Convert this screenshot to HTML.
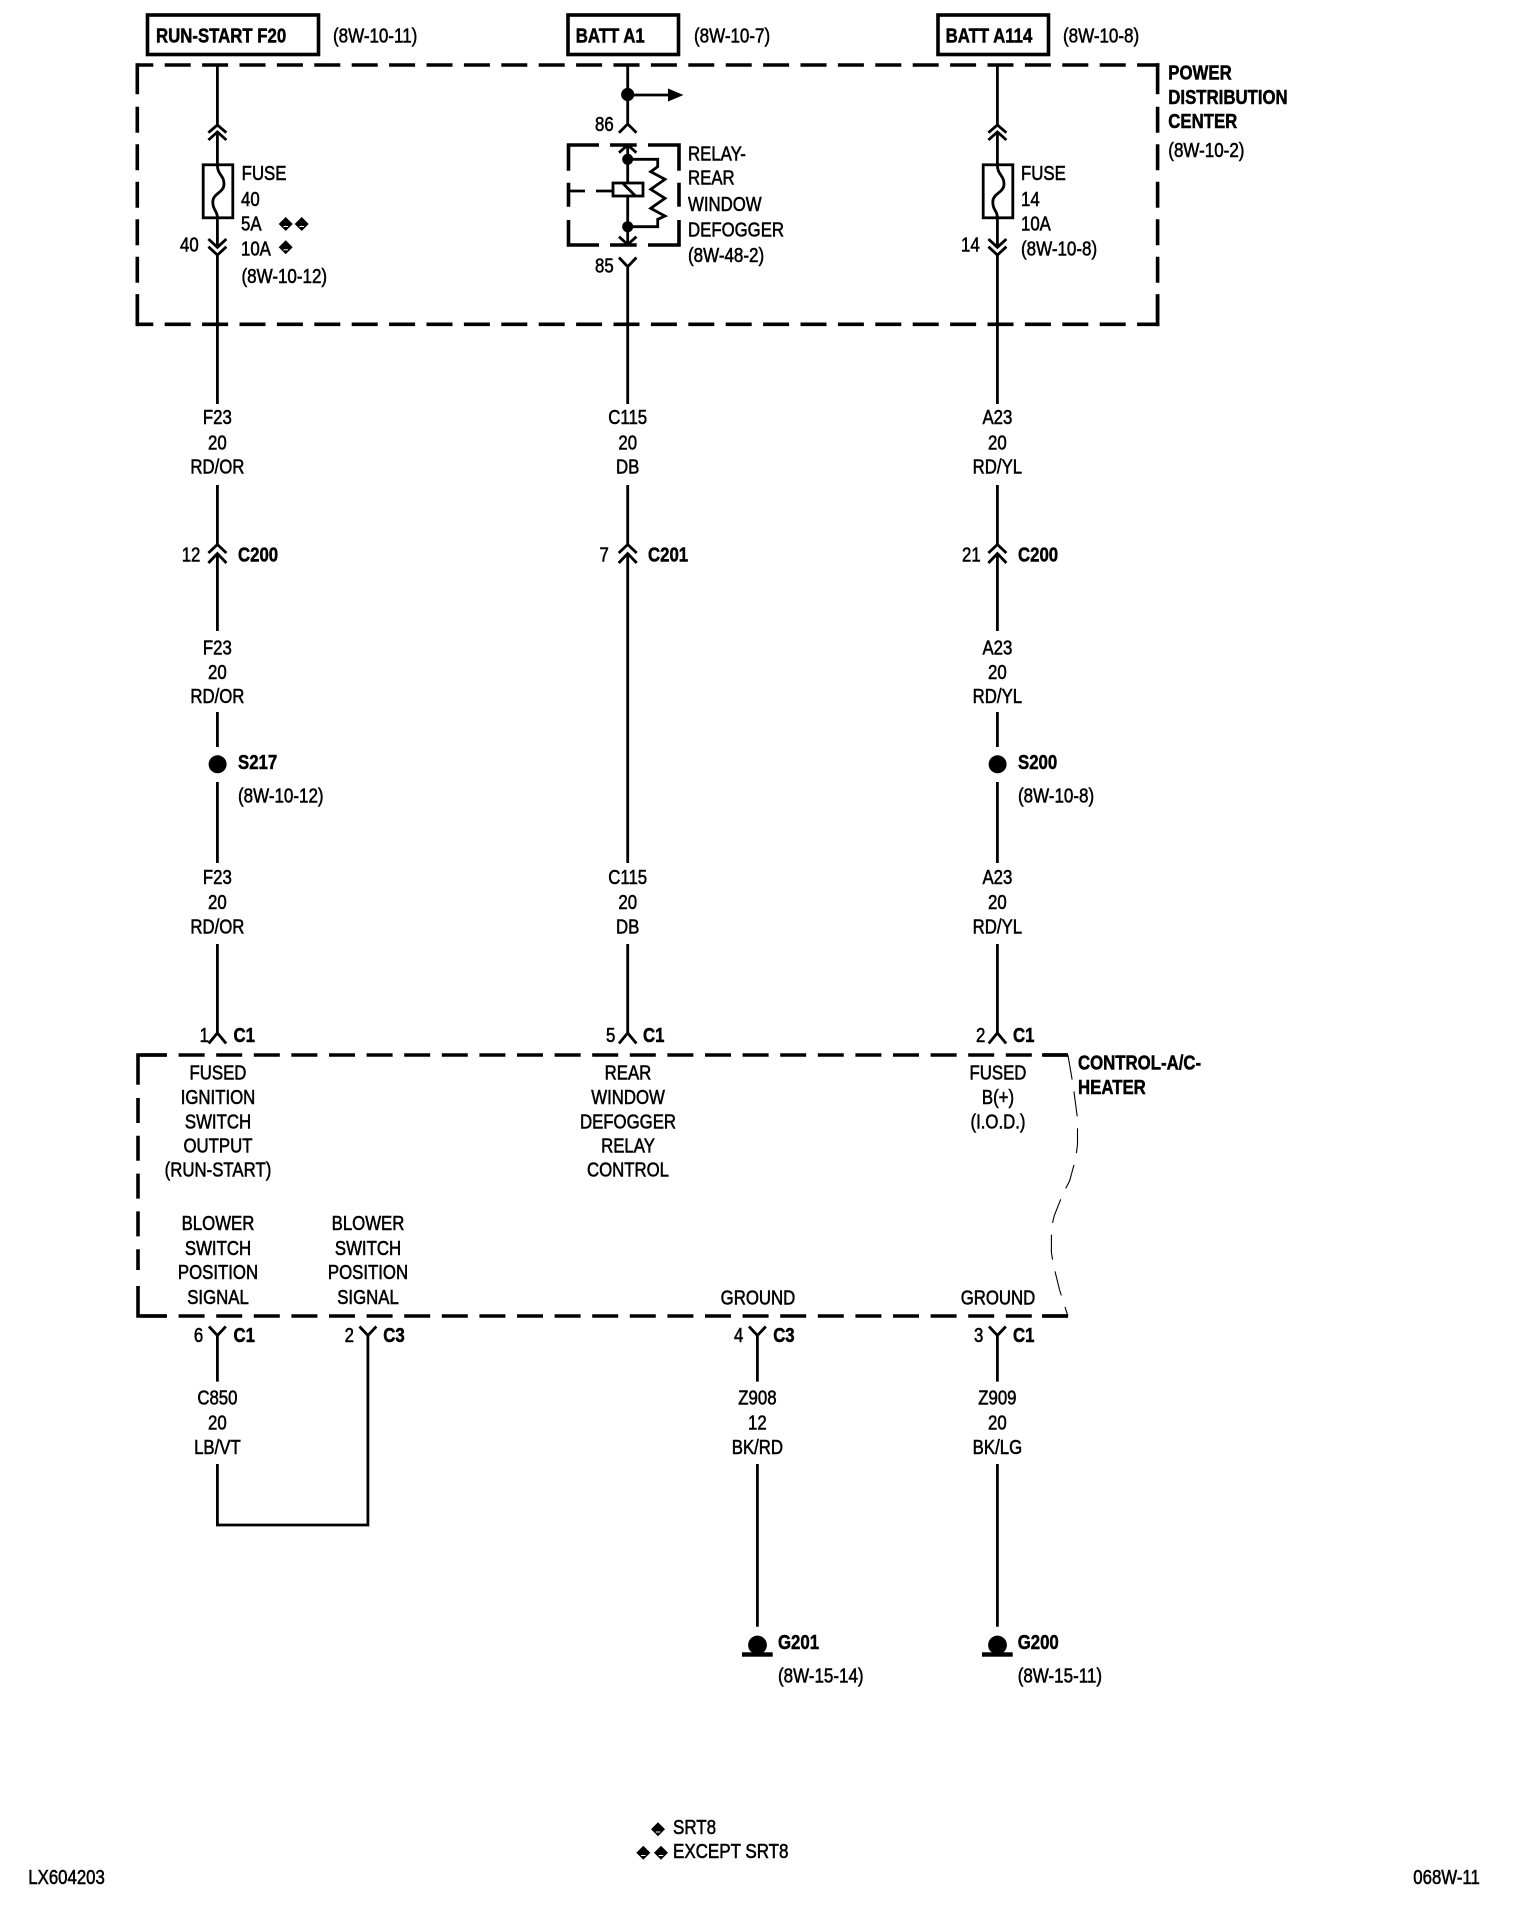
<!DOCTYPE html>
<html>
<head>
<meta charset="utf-8">
<title>Wiring diagram 068W-11</title>
<style>
html,body{margin:0;padding:0;background:#fff;}
svg{display:block;}
text{font-family:"Liberation Sans",sans-serif;font-size:20px;fill:#000;stroke:#000;stroke-width:.55px;transform-box:fill-box;transform-origin:0 50%;transform:scaleX(.84);}
text.b{font-weight:bold;stroke-width:.5px;transform:scaleX(.84);}
text.r{transform:scaleX(.85);}
text.c{text-anchor:middle;transform-origin:50% 50%;}
.w{fill:none;stroke:#000;stroke-width:2.8;}
.dh{fill:none;stroke:#000;stroke-width:3.6;stroke-dasharray:26 11.4;}
.dv{fill:none;stroke:#000;stroke-width:3.6;stroke-dasharray:26 11.5;}
.s{fill:none;stroke:#fff;stroke-width:1;}
</style>
</head>
<body>
<svg xmlns="http://www.w3.org/2000/svg" width="1520" height="1906" viewBox="0 0 1520 1906">
<rect width="1520" height="1906" fill="#fff"/>

<!-- top boxes -->
<g fill="none" stroke="#000" stroke-width="3.6">
<rect x="147.5" y="15" width="171" height="39.5"/>
<rect x="568" y="15" width="110.5" height="39.5"/>
<rect x="938" y="15" width="110.5" height="39.5"/>
</g>
<text class="b" x="156" y="42.5">RUN-START F20</text>
<text class="r" x="333" y="42.5">(8W-10-11)</text>
<text class="b" x="575.7" y="42.5">BATT A1</text>
<text class="r" x="694" y="42.5">(8W-10-7)</text>
<text class="b" x="945.6" y="42.5">BATT A114</text>
<text class="r" x="1063" y="42.5">(8W-10-8)</text>

<!-- power distribution box -->
<path class="dh" stroke-dashoffset="10" d="M137.3 65H1159.5"/>
<path class="dh" stroke-dashoffset="10" d="M137.3 324.3H1159.5"/>
<path class="w" style="stroke-width:3.6" d="M137.3 63.2V94.3M137.3 294.2V326.1M1157.6 63.2V94.3M1157.6 294.2V326.1"/>
<path class="dv" d="M137.3 106.7V320M1157.6 106.7V320"/>
<text class="b" x="1168.3" y="79.5">POWER</text>
<text class="b" x="1168.3" y="104">DISTRIBUTION</text>
<text class="b" x="1168.3" y="128">CENTER</text>
<text class="r" x="1168.3" y="157">(8W-10-2)</text>

<!-- left column wires -->
<path class="w" d="M217.4 65V125M217.4 132V164M217.4 218V247M217.4 255V404"/>
<path class="w" d="M208.4 132.7L217.4 125L226.4 132.7M208.4 140L217.4 132L226.4 140"/>
<path class="w" d="M208.4 239L217.4 247.3L226.4 239M208.4 246.7L217.4 255L226.4 246.7"/>
<rect x="203.2" y="164.8" width="29.6" height="53" fill="none" stroke="#000" stroke-width="2.8"/>
<path class="w" d="M217.4 165C217.4 175 224 175 224 184C224 193 212.8 193 212.8 202C212.8 211 217.4 210 217.4 218"/>
<text x="241.7" y="180">FUSE</text>
<text x="241" y="206">40</text>
<text x="241" y="230.5">5A</text>
<polygon points="285.7,217 292.7,224 285.7,231 278.7,224" fill="#000"/>
<polygon points="301.7,217 308.7,224 301.7,231 294.7,224" fill="#000"/>
<path class="s" d="M283.5 226.5H288M299.5 226.5H304"/>
<text x="241" y="255.5">10A</text>
<polygon points="285.7,240.3 292.7,247.3 285.7,254.3 278.7,247.3" fill="#000"/>
<path class="s" d="M283.5 249.8H288"/>
<text class="r" x="241.5" y="283">(8W-10-12)</text>
<text x="180" y="251.7">40</text>

<!-- middle column -->
<path class="w" d="M627.7 65V124"/>
<ellipse cx="627.7" cy="94.5" rx="6.6" ry="6.6" fill="#000"/>
<path class="w" d="M627.7 95H670"/>
<polygon points="668,88.5 683.5,95 668,101.5" fill="#000"/>
<path class="w" d="M619 132.7L627.7 124L636.4 132.7"/>
<text x="595" y="131">86</text>

<!-- relay -->
<g fill="none" stroke="#000" stroke-width="3.6">
<path d="M599 145H568.5V170.7M610 145H636.7M648 145H679V170.7M568.5 182.7V206.7M679 182.7V206.7M568.5 220V245H599M610 245H636.7M648 245H679V220"/>
</g>
<path class="w" d="M627.7 146V183M627.7 196V244"/>
<path class="w" d="M619 152.7L627.7 145L636.4 152.7M619 236.7L627.7 244.5L636.4 236.7"/>
<circle cx="627.7" cy="159.3" r="5.5" fill="#000"/>
<circle cx="627.7" cy="226.7" r="5.5" fill="#000"/>
<path class="w" d="M627.7 159.3H657.7V166.7L650.7 171.7L665 179.3L650.7 189.3L665 198.3L650.7 208.3L665 216L657.7 219.3V226.7H627.7"/>
<rect x="613" y="183" width="30" height="13" fill="#fff" stroke="#000" stroke-width="2.8"/>
<path class="w" d="M623 183.5L635 195.5"/>
<path class="w" d="M567 191H585M596 191H613"/>
<text x="688" y="160.7">RELAY-</text>
<text x="688" y="184.3">REAR</text>
<text x="688" y="211">WINDOW</text>
<text x="688" y="236.3">DEFOGGER</text>
<text class="r" x="688" y="262">(8W-48-2)</text>
<path class="w" d="M619 257.5L627.7 266.7L636.4 257.5M627.7 266.7V404"/>
<text x="595" y="272.7">85</text>

<!-- right column -->
<path class="w" d="M997.4 65V125M997.4 132V164M997.4 218V247M997.4 255V404"/>
<path class="w" d="M988.4 132.7L997.4 125L1006.4 132.7M988.4 140L997.4 132L1006.4 140"/>
<path class="w" d="M988.4 239L997.4 247.3L1006.4 239M988.4 246.7L997.4 255L1006.4 246.7"/>
<rect x="983.2" y="164.8" width="29.6" height="53" fill="none" stroke="#000" stroke-width="2.8"/>
<path class="w" d="M997.4 165C997.4 175 1004 175 1004 184C1004 193 992.8 193 992.8 202C992.8 211 997.4 210 997.4 218"/>
<text x="1021" y="180">FUSE</text>
<text x="1021" y="206">14</text>
<text x="1021" y="230.5">10A</text>
<text class="r" x="1021" y="255.5">(8W-10-8)</text>
<text x="961" y="251.7">14</text>

<!-- wire labels row 1 -->
<text class="c" x="217.4" y="424">F23</text>
<text class="c" x="217.4" y="449.5">20</text>
<text class="c" x="217.4" y="473.5">RD/OR</text>
<text class="c" x="627.7" y="424">C115</text>
<text class="c" x="627.7" y="449.5">20</text>
<text class="c" x="627.7" y="473.5">DB</text>
<text class="c" x="997.4" y="424">A23</text>
<text class="c" x="997.4" y="449.5">20</text>
<text class="c" x="997.4" y="473.5">RD/YL</text>

<!-- connectors C200/C201 -->
<path class="w" d="M217.4 485V544M217.4 553V631M208.4 553L217.4 544.5L226.4 553M208.4 563L217.4 553.5L226.4 563"/>
<path class="w" d="M627.7 485V544M627.7 553V863M618.7 553L627.7 544.5L636.7 553M618.7 563L627.7 553.5L636.7 563"/>
<path class="w" d="M997.4 485V544M997.4 553V631M988.4 553L997.4 544.5L1006.4 553M988.4 563L997.4 553.5L1006.4 563"/>
<text x="181.7" y="561.5">12</text>
<text class="b" x="238" y="561.5">C200</text>
<text x="599.5" y="561.5">7</text>
<text class="b" x="648" y="561.5">C201</text>
<text x="962" y="561.5">21</text>
<text class="b" x="1018" y="561.5">C200</text>

<!-- wire labels row 2 -->
<text class="c" x="217.4" y="654.5">F23</text>
<text class="c" x="217.4" y="679">20</text>
<text class="c" x="217.4" y="703">RD/OR</text>
<text class="c" x="997.4" y="654.5">A23</text>
<text class="c" x="997.4" y="679">20</text>
<text class="c" x="997.4" y="703">RD/YL</text>

<!-- splices -->
<path class="w" d="M217.4 712V747M217.4 782V863M997.4 712V747M997.4 782V863"/>
<circle cx="217.6" cy="764.3" r="9" fill="#000"/>
<circle cx="997.6" cy="764.3" r="9" fill="#000"/>
<text class="b" x="238" y="769">S217</text>
<text class="r" x="238" y="802.7">(8W-10-12)</text>
<text class="b" x="1018" y="769">S200</text>
<text class="r" x="1018" y="802.7">(8W-10-8)</text>

<!-- wire labels row 3 -->
<text class="c" x="217.4" y="884">F23</text>
<text class="c" x="217.4" y="909">20</text>
<text class="c" x="217.4" y="933.3">RD/OR</text>
<text class="c" x="627.7" y="884">C115</text>
<text class="c" x="627.7" y="909">20</text>
<text class="c" x="627.7" y="933.3">DB</text>
<text class="c" x="997.4" y="884">A23</text>
<text class="c" x="997.4" y="909">20</text>
<text class="c" x="997.4" y="933.3">RD/YL</text>

<!-- top pins of control -->
<path class="w" d="M217.4 944V1033M208.7 1043.5L217.4 1033L226.1 1043.5"/>
<path class="w" d="M627.7 944V1033M619 1043.5L627.7 1033L636.4 1043.5"/>
<path class="w" d="M997.4 944V1033M988.7 1043.5L997.4 1033L1006.1 1043.5"/>
<text x="199.6" y="1042">1</text>
<text class="b" x="233.5" y="1042">C1</text>
<text x="606" y="1042">5</text>
<text class="b" x="643" y="1042">C1</text>
<text x="976" y="1042">2</text>
<text class="b" x="1013" y="1042">C1</text>

<!-- control box -->
<path class="dh" style="stroke-dasharray:26 11.6" stroke-dashoffset="-3" d="M138 1055H1068"/>
<path class="dh" style="stroke-dasharray:26 11.6" stroke-dashoffset="-3" d="M138 1316H1068"/>
<path class="w" style="stroke-width:3.6" d="M136.2 1055H166M136.2 1316H166M1042 1055H1068M1042 1316H1068M138 1053.2V1084.7M138 1286V1317.8"/>
<path class="dv" style="stroke-dasharray:25 12.8" d="M138 1098V1270"/>
<path d="M1067.9 1055L1073.2 1085.7L1077.5 1118.6V1144.6L1075.7 1158.4L1069.6 1181L1063.2 1193L1054.3 1215.5L1051.4 1227.6V1252.5L1053.6 1265.7L1059.6 1290L1067.9 1316" fill="none" stroke="#000" stroke-width="1.1" stroke-dasharray="25 12"/>
<text class="b" x="1078" y="1069.5">CONTROL-A/C-</text>
<text class="b" x="1078" y="1094">HEATER</text>

<text class="c" x="218" y="1079.5">FUSED</text>
<text class="c" x="218" y="1104">IGNITION</text>
<text class="c" x="218" y="1128.3">SWITCH</text>
<text class="c" x="218" y="1152.5">OUTPUT</text>
<text class="c" x="218" y="1176.5">(RUN-START)</text>
<text class="c" x="218" y="1230">BLOWER</text>
<text class="c" x="218" y="1255">SWITCH</text>
<text class="c" x="218" y="1279">POSITION</text>
<text class="c" x="218" y="1304">SIGNAL</text>
<text class="c" x="368" y="1230">BLOWER</text>
<text class="c" x="368" y="1255">SWITCH</text>
<text class="c" x="368" y="1279">POSITION</text>
<text class="c" x="368" y="1304">SIGNAL</text>
<text class="c" x="628" y="1079.5">REAR</text>
<text class="c" x="628" y="1104">WINDOW</text>
<text class="c" x="628" y="1128.3">DEFOGGER</text>
<text class="c" x="628" y="1152.5">RELAY</text>
<text class="c" x="628" y="1176.5">CONTROL</text>
<text class="c" x="998" y="1079.5">FUSED</text>
<text class="c" x="998" y="1104">B(+)</text>
<text class="c" x="998" y="1128.3">(I.O.D.)</text>
<text class="c" x="758" y="1304.5">GROUND</text>
<text class="c" x="998" y="1304.5">GROUND</text>

<!-- bottom pins -->
<path class="w" d="M209 1326.5L217.4 1335.5L225.8 1326.5M217.4 1335.5V1381.6"/>
<path class="w" d="M359.5 1326.5L367.9 1335.5L376.3 1326.5M367.9 1335.5V1525H217.4V1464"/>
<path class="w" d="M749 1326.5L757.4 1335.5L765.8 1326.5M757.4 1335.5V1381.6M757.4 1464V1626.7"/>
<path class="w" d="M989 1326.5L997.4 1335.5L1005.8 1326.5M997.4 1335.5V1381.6M997.4 1464V1626.7"/>
<text x="193.9" y="1342">6</text>
<text class="b" x="233.5" y="1342">C1</text>
<text x="344.6" y="1342">2</text>
<text class="b" x="383.3" y="1342">C3</text>
<text x="734" y="1342">4</text>
<text class="b" x="773.2" y="1342">C3</text>
<text x="974" y="1342">3</text>
<text class="b" x="1013" y="1342">C1</text>

<text class="c" x="217.4" y="1404.5">C850</text>
<text class="c" x="217.4" y="1429.5">20</text>
<text class="c" x="217.4" y="1454">LB/VT</text>
<text class="c" x="757.4" y="1404.5">Z908</text>
<text class="c" x="757.4" y="1429.5">12</text>
<text class="c" x="757.4" y="1454">BK/RD</text>
<text class="c" x="997.4" y="1404.5">Z909</text>
<text class="c" x="997.4" y="1429.5">20</text>
<text class="c" x="997.4" y="1454">BK/LG</text>

<!-- grounds -->
<circle cx="757.5" cy="1645" r="9.4" fill="#000"/>
<rect x="742" y="1652.3" width="30.7" height="4.4" fill="#000"/>
<circle cx="997.5" cy="1645" r="9.4" fill="#000"/>
<rect x="982" y="1652.3" width="30.7" height="4.4" fill="#000"/>
<text class="b" x="778" y="1649">G201</text>
<text class="r" x="778" y="1682.3">(8W-15-14)</text>
<text class="b" x="1017.7" y="1649">G200</text>
<text class="r" x="1017.7" y="1682.3">(8W-15-11)</text>

<!-- legend -->
<polygon points="658,1822.3 665,1829.3 658,1836.3 651,1829.3" fill="#000"/>
<polygon points="643.3,1845.8 650.3,1852.8 643.3,1859.8 636.3,1852.8" fill="#000"/>
<polygon points="661,1845.8 668,1852.8 661,1859.8 654,1852.8" fill="#000"/>
<path class="s" d="M655.8 1832H660.2M641 1855.5H645.5M658.8 1855.5H663.2"/>
<text x="673" y="1834" style="transform:scaleX(.85)">SRT8</text>
<text x="673" y="1858" style="transform:scaleX(.85)">EXCEPT SRT8</text>
<text x="28.3" y="1884">LX604203</text>
<text x="1413.3" y="1884">068W-11</text>
</svg>
</body>
</html>
